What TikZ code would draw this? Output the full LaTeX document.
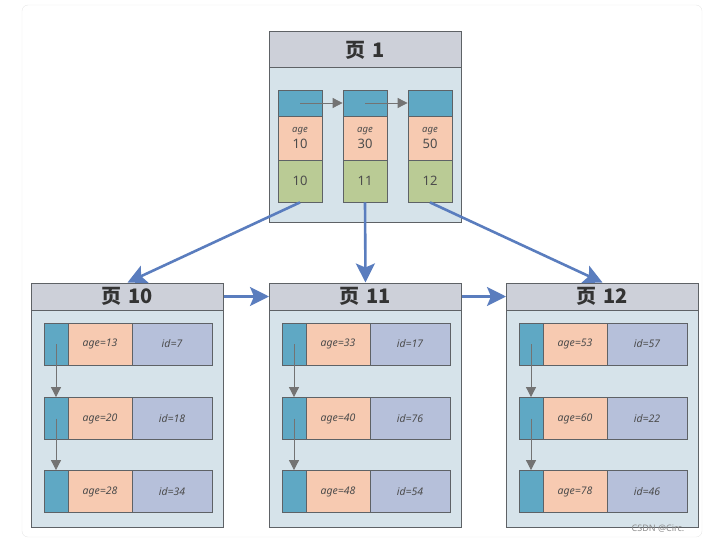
\documentclass[tikz,border=0pt]{standalone}
\usepackage{fontspec}
\setmainfont{Noto Sans}
\newfontfamily\cjk{Noto Sans CJK SC}
\usetikzlibrary{arrows.meta}

\definecolor{edge}{HTML}{5E6266}
\definecolor{headgray}{HTML}{CDD0D9}
\definecolor{bodyblue}{HTML}{D6E3EA}
\definecolor{cellblue}{HTML}{5FA8C4}
\definecolor{peach}{HTML}{F7CAB1}
\definecolor{leaf}{HTML}{BACB95}
\definecolor{lilac}{HTML}{B6C0DA}
\definecolor{linkblue}{HTML}{5A7DBE}
\definecolor{framegray}{HTML}{E6E6E6}

\begin{document}
\begin{tikzpicture}[x=1pt,y=-1pt]
  \tikzset{head/.style={draw=edge,fill=headgray,line width=1pt,minimum width=192pt,inner sep=0pt,text=black!80,font=\cjk\bfseries\fontsize{20}{20}\selectfont},
    body/.style={draw=edge,fill=bodyblue,line width=1pt,minimum width=192pt,inner sep=0pt},
    cell/.style={draw=edge,line width=0.8pt,inner sep=0pt,text=black!70,font=\itshape\fontsize{10.5}{10.5}\selectfont},
    ptr/.style={draw=black!55,line width=0.8pt,-{Triangle[length=10pt,width=10pt]}},
    link/.style={draw=linkblue,line width=2.6pt,-{Stealth[length=19pt,width=19pt,inset=4pt]}}};
  \useasboundingbox (0,0) rectangle (704,543);
  \draw[framegray,rounded corners=6pt] (22,5) rectangle (702,537);
  % page 1
  \node[head,minimum height=36pt] (h1) at (365,50) {页\,\,1};
  \node[body,minimum height=154pt] (p1) at (365,145) {};
  \foreach \i/\x/\a/\k in {1/300/10/10,2/365/30/11,3/430/50/12}{
    \node[cell,fill=cellblue,minimum width=44pt,minimum height=26pt] (t\i) at (\x,103) {};
    \node[cell,fill=peach,minimum width=44pt,minimum height=44pt,align=center,font=\fontsize{13}{13}\selectfont] (a\i) at (\x,138) {{\fontsize{9.5}{9.5}\selectfont\itshape age}\\[3pt]\a};
    \node[cell,fill=leaf,minimum width=44pt,minimum height=42pt,font=\fontsize{13}{13}\selectfont] (k\i) at (\x,181) {\k};
  }
  \draw[ptr] (t1.center) -- (t2.west);
  \draw[ptr] (t2.center) -- (t3.west);
  % leaf pages
  \foreach \p/\x in {10/127.5,11/365.5,12/602.5}{
    \node[head,minimum height=27pt] (h\p) at (\x,296.5) {页\,\,\p};
    \node[body,minimum height=217pt] (p\p) at (\x,418.5) {};
  }
  \foreach \p/\l/\r/\y/\a/\d in {10/32/1/344/13/7,10/32/2/418.5/20/18,10/32/3/491.5/28/34,
      11/270/1/344/33/17,11/270/2/418.5/40/76,11/270/3/491.5/48/54,
      12/507/1/344/53/57,12/507/2/418.5/60/22,12/507/3/491.5/78/46}{
    \node[cell,fill=cellblue,minimum width=24pt,minimum height=42pt] (b\p-\r) at (\l+24,\y) {};
    \node[cell,fill=peach,minimum width=64pt,minimum height=42pt] (a\p-\r) at (\l+68,\y) {age=\a};
    \node[cell,fill=lilac,minimum width=80pt,minimum height=42pt] (d\p-\r) at (\l+140,\y) {id=\d};
  }
  \foreach \p in {10,11,12}
    \foreach \r/\s in {1/2,2/3}
      \draw[ptr] (b\p-\r.center) -- (b\p-\s.north);
  \draw[link] (k1.south) -- (h10.north);
  \draw[link] (k2.south) -- (h11.north);
  \draw[link] (k3.south) -- (h12.north);
  \draw[link] (h10.east) -- (h11.west);
  \draw[link] (h11.east) -- (h12.west);
  \node[text=black!45,font=\fontsize{9}{9}\selectfont] (mark) at (658,529) {CSDN @Circ.};
\end{tikzpicture}
\end{document}
